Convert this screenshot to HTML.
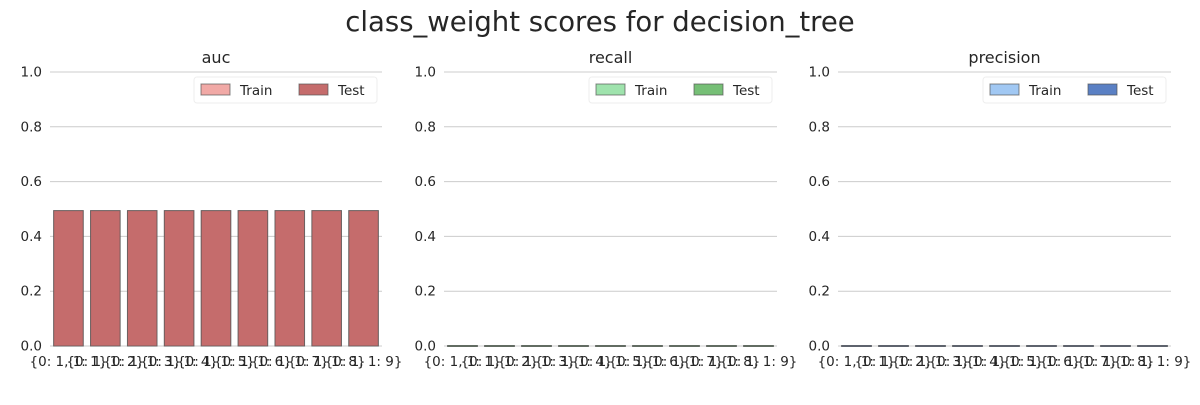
<!DOCTYPE html>
<html><head><meta charset="utf-8"><style>
body{margin:0;background:#fff;font-family:"Liberation Sans","DejaVu Sans",sans-serif;}
svg text{font-family:"DejaVu Sans","Liberation Sans",sans-serif;fill:#262626;}
</style></head><body>
<svg id="chart" width="1200" height="400">
<text x="600" y="31" font-size="27.5" text-anchor="middle">class_weight scores for decision_tree</text>
</svg>
<script>
const categories=["{0: 1, 1: 1}","{0: 1, 1: 2}","{0: 1, 1: 3}","{0: 1, 1: 4}","{0: 1, 1: 5}","{0: 1, 1: 6}","{0: 1, 1: 7}","{0: 1, 1: 8}","{0: 1, 1: 9}"];
const yTicks=[0,0.2,0.4,0.6,0.8,1.0];
const aucTrain=[0.494,0.494,0.494,0.494,0.494,0.494,0.494,0.494,0.494];
const aucTest=[0.494,0.494,0.494,0.494,0.494,0.494,0.494,0.494,0.494];
const recallTrain=[0,0,0,0,0,0,0,0,0];
const recallTest=[0,0,0,0,0,0,0,0,0];
const precisionTrain=[0,0,0,0,0,0,0,0,0];
const precisionTest=[0,0,0,0,0,0,0,0,0];
const panels=[
 {name:"auc",x0:50,x1:382,train:aucTrain,test:aucTest,c1:"#f1a9a6",c2:"#c56c6c"},
 {name:"recall",x0:444,x1:777,train:recallTrain,test:recallTest,c1:"#9fe3ad",c2:"#76bf76"},
 {name:"precision",x0:838,x1:1171,train:precisionTrain,test:precisionTest,c1:"#a1c8f3",c2:"#5a80c4"}];
const svg=document.getElementById('chart');
const NS="http://www.w3.org/2000/svg";
function mk(t,a,p){const e=document.createElementNS(NS,t);for(const k in a)e.setAttribute(k,a[k]);(p||svg).appendChild(e);return e;}
const yTop=72,yBot=346;
const yS=v=>yBot-v*(yBot-yTop);
panels.forEach(p=>{
 const g=mk('g',{});
 
 
 const bw=(p.x1-p.x0)/categories.length;
 const xS=i=>p.x0+bw*(i+0.5);
 yTicks.forEach(t=>{
  const l=mk('line',{x1:p.x0,x2:p.x1,y1:yS(t),y2:yS(t),stroke:'#cccccc','stroke-width':1},g);
  
  
  const tx=mk('text',{x:p.x0-8,y:yS(t)+4.5,'font-size':13.5,'text-anchor':'end'},g);
  tx.textContent=t.toFixed(1);
  
  
 });
 [[p.train,p.c1],[p.test,p.c2]].forEach(([arr,c])=>{
  arr.forEach((v,i)=>{
   const h=yBot-yS(v);
   const r=mk('rect',{x:xS(i)-bw*0.4,width:bw*0.8,y:h>0?yS(v):yBot-0.5,height:h>0?h:1,fill:c,stroke:'#555','stroke-opacity':0.7,'stroke-width':1},g);
   
   
  });
 });
 categories.forEach((c,i)=>{
  const tx=mk('text',{x:xS(i),y:366,'font-size':13.5,'text-anchor':'middle'},g);
  tx.textContent=c;
  
  
 });
 const ti=mk('text',{x:(p.x0+p.x1)/2,y:63,'font-size':16,'text-anchor':'middle'},g);
 ti.textContent=p.name;
 
 
 const lx=p.x1-188;
 const lg=mk('g',{},g);
 
 
 mk('rect',{x:lx,y:77,width:183,height:26,rx:3,fill:'#fff',stroke:'#eee'},lg);
 [['Train',p.c1,lx+7],['Test',p.c2,lx+105]].forEach(([n,c,x])=>{
  const s=mk('rect',{x:x,y:84,width:29,height:11,fill:c,stroke:'#555','stroke-opacity':0.7},lg);
  
  
  const t=mk('text',{x:x+39,y:95,'font-size':13.5},lg);
  t.textContent=n;
  
  
 });
});
</script>
</body></html>
